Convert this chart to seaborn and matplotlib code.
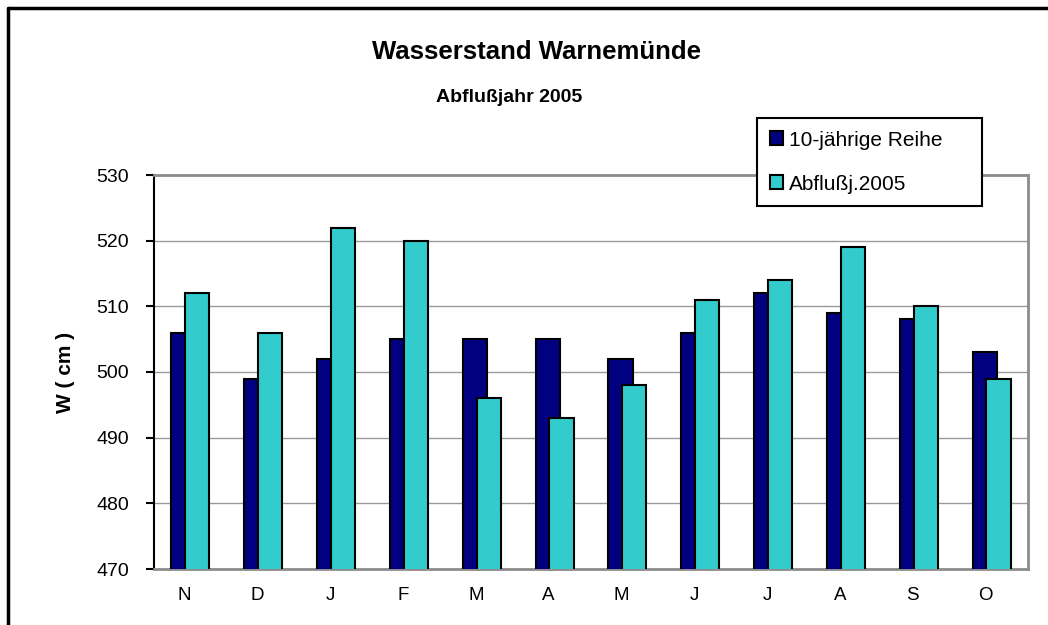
import numpy as np
import pandas as pd
import seaborn as sns
import matplotlib.pyplot as plt
from matplotlib.patches import Patch
from matplotlib.lines import Line2D
from matplotlib.transforms import ScaledTranslation

# Monthly water levels (cm)
MONTHS = ["N", "D", "J", "F", "M", "A", "M", "J", "J", "A", "S", "O"]
REIHE_10J = [506, 499, 502, 505, 505, 505, 502, 506, 512, 509, 508, 503]
ABFLUSS_2005 = [512, 506, 522, 520, 496, 493, 498, 511, 514, 519, 510, 499]
Y_TICKS = [470, 480, 490, 500, 510, 520, 530]

LABEL_REIHE = "10-jährige Reihe"
LABEL_2005 = "Abflußj.2005"
COLOR_REIHE = "#000080"
COLOR_2005 = "#33CCCC"

BAR_WIDTH = 0.33
SHIFT = 0.095

df = pd.DataFrame({"pos": np.arange(len(MONTHS)),
                   "reihe": REIHE_10J,
                   "abfluss": ABFLUSS_2005})

sns.set_style("white")
plt.rcParams["font.family"] = ["Liberation Sans", "DejaVu Sans"]
plt.rcParams["text.color"] = "black"
plt.rcParams["axes.labelcolor"] = "black"
plt.rcParams["xtick.color"] = "black"
plt.rcParams["ytick.color"] = "black"

W, H = 1048, 625
fig = plt.figure(figsize=(W / 100, H / 100), dpi=100)
ax = fig.add_axes([154 / W, 1 - 569 / H, (1028 - 154) / W, (569 - 175) / H])

# first series, then second drawn on top, each shifted sideways
sns.barplot(data=df, x="pos", y="reihe", color=COLOR_REIHE, width=BAR_WIDTH,
            edgecolor="black", linewidth=1.5, saturation=1, ax=ax, zorder=3)
n_first = len(ax.patches)
sns.barplot(data=df, x="pos", y="abfluss", color=COLOR_2005, width=BAR_WIDTH,
            edgecolor="black", linewidth=1.5, saturation=1, ax=ax, zorder=4)
for i, p in enumerate(ax.patches):
    p.set_x(p.get_x() + (-SHIFT if i < n_first else SHIFT))

ax.set_ylim(470, 530)
ax.set_xlim(-0.5, len(MONTHS) - 0.5)
ax.set_yticks(Y_TICKS)
ax.set_xticks(np.arange(len(MONTHS)))
ax.set_xticklabels(MONTHS)
ax.yaxis.grid(True, color="#9a9a9a", linewidth=1, zorder=0)
ax.set_axisbelow(True)

ax.tick_params(axis="x", length=0, pad=13, labelsize=13.5)
ax.tick_params(axis="y", direction="out", length=6, width=1.5, color="black",
               pad=12, labelsize=14, left=True)
# Excel puts the month letters a little left of the group centre
shift_lbl = ScaledTranslation(-6 / 100, 0, fig.dpi_scale_trans)
for lbl in ax.get_xticklabels():
    lbl.set_transform(lbl.get_transform() + shift_lbl)

for side in ["top", "bottom", "right"]:
    ax.spines[side].set_visible(True)
    ax.spines[side].set_color("#8c8c8c")
    ax.spines[side].set_linewidth(2)
ax.spines["left"].set_color("black")
ax.spines["left"].set_linewidth(1.5)

ax.set_xlabel("")
ax.set_ylabel("W ( cm )", fontsize=15, fontweight="bold")
ax.yaxis.set_label_coords(-0.09, 0.5)

fig.text(537 / W, 1 - 52 / H, "Wasserstand Warnemünde", ha="center", va="center",
         fontsize=18.5, fontweight="bold")
fig.text(509 / W, 1 - 97 / H, "Abflußjahr 2005", ha="center", va="center",
         fontsize=14, fontweight="bold")

handles = [Patch(facecolor=COLOR_REIHE, edgecolor="black", linewidth=1.5, label=LABEL_REIHE),
           Patch(facecolor=COLOR_2005, edgecolor="black", linewidth=1.5, label=LABEL_2005)]
leg = fig.legend(handles=handles, loc="upper left", mode="expand",
                 bbox_to_anchor=(757 / W, 1 - 205 / H, 225 / W, 87 / H),
                 bbox_transform=fig.transFigure,
                 borderaxespad=0, fontsize=15, fancybox=False, framealpha=1,
                 edgecolor="black", handlelength=0.65, handleheight=0.65,
                 handletextpad=0.3, borderpad=0.6, labelspacing=1.2)
leg.get_frame().set_linewidth(1.5)
leg.set_zorder(10)

# outer chart frame (top and left edges visible)
fig.add_artist(Line2D([8 / W, 8 / W], [0, 1 - 8 / H], color="black", linewidth=2.5,
                      transform=fig.transFigure))
fig.add_artist(Line2D([8 / W, 1], [1 - 8 / H, 1 - 8 / H], color="black", linewidth=2.5,
                      transform=fig.transFigure))

fig.savefig("out.png", dpi=100)
